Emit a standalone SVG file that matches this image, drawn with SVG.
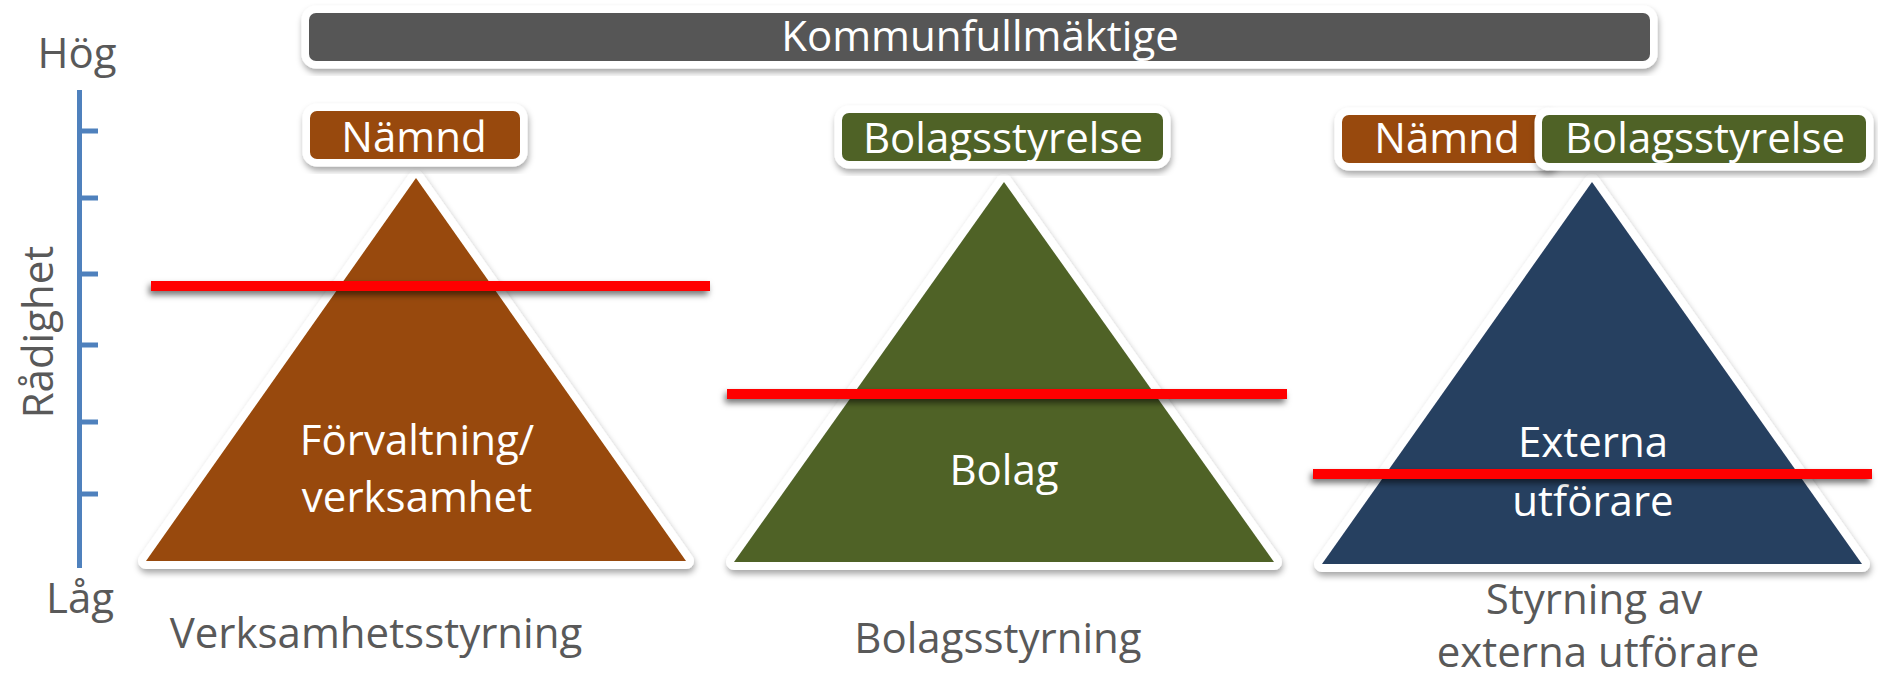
<svg xmlns="http://www.w3.org/2000/svg" width="1878" height="678" viewBox="0 0 1878 678">
<defs>
<filter id="sh" x="-10%" y="-20%" width="120%" height="150%">
<feDropShadow dx="1" dy="4" stdDeviation="3" flood-color="#000" flood-opacity="0.35"/>
</filter>
<filter id="shl" x="-5%" y="-200%" width="110%" height="500%">
<feDropShadow dx="-2" dy="4" stdDeviation="3" flood-color="#000" flood-opacity="0.55"/>
</filter>
<style>
text{font-family:"Open Sans","Noto Sans","Liberation Sans",sans-serif;font-size:42px;text-anchor:middle}
.w{fill:#fff}
.g{fill:#595959}
.box{stroke:#fff;stroke-width:15;paint-order:stroke}
.tri{stroke:#fff;stroke-width:16;stroke-linejoin:round;paint-order:stroke}
.brown{fill:#984807}
.green{fill:#4f6228}
.navy{fill:#283f60}
.tick{stroke:#4f81bd;stroke-width:5;fill:none}
.red{fill:#ff0000}
</style>
</defs>
<rect width="1878" height="678" fill="#fff"/>

<g id="axis">
<path class="tick" d="M79.5 90 V568 M79.5 131 H98 M79.5 198 H98 M79.5 274 H98 M79.5 345 H98 M79.5 422 H98 M79.5 494 H98"/>
<text class="g" x="77" y="68">Hög</text>
<text class="g" x="80" y="613">Låg</text>
<text class="g" transform="translate(53 332) rotate(-90)">Rådighet</text>
</g>

<g id="kommunfullmaktige">
<rect class="box" x="309" y="13" width="1341" height="48" rx="7" fill="#575757" filter="url(#sh)"/>
<text class="w" x="980" y="51">Kommunfullmäktige</text>
</g>

<g id="verksamhet-triangel">
<polygon class="tri brown" points="416,178 146,561 686,561" filter="url(#sh)"/>
<text class="w" x="417" y="455">Förvaltning/</text>
<text class="w" x="417" y="512">verksamhet</text>
</g>
<g id="namnd-1">
<rect class="box brown" x="310" y="111" width="210" height="48" rx="7" filter="url(#sh)"/>
<text class="w" x="414" y="152">Nämnd</text>
</g>
<text id="label-verksamhetsstyrning" class="g" x="376" y="648">Verksamhetsstyrning</text>

<g id="bolag-triangel">
<polygon class="tri green" points="1004,182 734,562 1274,562" filter="url(#sh)"/>
<text class="w" x="1004" y="485">Bolag</text>
</g>
<g id="bolagsstyrelse-1">
<rect class="box green" x="842" y="113" width="321" height="48" rx="7" filter="url(#sh)"/>
<text class="w" x="1003" y="153">Bolagsstyrelse</text>
</g>
<text id="label-bolagsstyrning" class="g" x="998" y="653">Bolagsstyrning</text>

<g id="externa-triangel">
<polygon class="tri navy" points="1592,182 1322,564 1862,564" filter="url(#sh)"/>
<text class="w" x="1593" y="457">Externa</text>
<text class="w" x="1593" y="516">utförare</text>
</g>
<g id="namnd-2">
<rect class="box brown" x="1342" y="115" width="210" height="48" rx="7" filter="url(#sh)"/>
<text class="w" x="1447" y="153">Nämnd</text>
</g>
<g id="bolagsstyrelse-2">
<rect class="box green" x="1542" y="115" width="324" height="48" rx="7" filter="url(#sh)"/>
<text class="w" x="1705" y="153">Bolagsstyrelse</text>
</g>
<g id="label-externa">
<text class="g" x="1594" y="614">Styrning av</text>
<text class="g" x="1598" y="667">externa utförare</text>
</g>

<g id="niva-linjer">
<rect class="red" x="151" y="281" width="559" height="10" filter="url(#shl)"/>
<rect class="red" x="727" y="389" width="560" height="10" filter="url(#shl)"/>
<rect class="red" x="1313" y="469" width="559" height="10" filter="url(#shl)"/>
</g>
</svg>
